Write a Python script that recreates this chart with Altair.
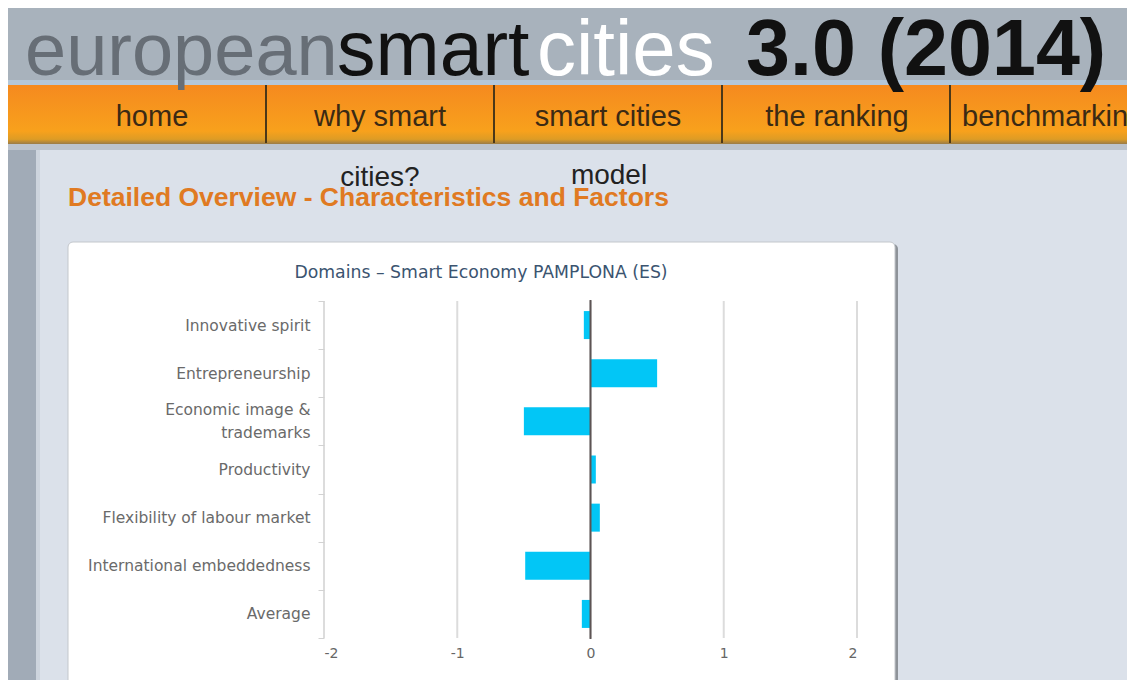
import altair as alt
import pandas as pd

# ---------------- data ----------------
categories = [
    "Innovative spirit",
    "Entrepreneurship",
    "Economic image & trademarks",
    "Productivity",
    "Flexibility of labour market",
    "International embeddedness",
    "Average",
]
values = [-0.05, 0.50, -0.50, 0.04, 0.07, -0.49, -0.065]
x_ticks = [-2, -1, 0, 1, 2]

nav_labels = ["home", "why smart", "smart cities", "the ranking", "benchmarking"]
nav_overflow = ["cities?", "model"]
title_parts = ["european", "smart", "cities", "3.0 (2014)"]
heading = "Detailed Overview - Characteristics and Factors"
chart_title = "Domains \u2013 Smart Economy PAMPLONA (ES)"

df = pd.DataFrame({"category": categories, "value": values})
ticks_df = pd.DataFrame({"tick": x_ticks})
one = pd.DataFrame({"k": [1]})

# page coordinates of the plot-area origin (page margin 8 + padding)
OX, OY = 324, 301
PW, PH = 533, 337


def rect(x1, y1, x2, y2, fill, **kw):
    return alt.Chart(one).mark_rect(fill=fill, **kw).encode(
        x=alt.value(x1 - OX), x2=alt.value(x2 - OX),
        y=alt.value(y1 - OY), y2=alt.value(y2 - OY))


def text(s, x, y, size, color, font="Liberation Sans", weight="normal", align="left"):
    return alt.Chart(one).mark_text(
        text=s, font=font, fontSize=size, fontWeight=weight, color=color,
        align=align, baseline="alphabetic").encode(
        x=alt.value(x - OX), y=alt.value(y - OY))


nav_grad = alt.LinearGradient(
    gradient="linear",
    stops=[alt.GradientStop(color="#f58a1f", offset=0),
           alt.GradientStop(color="#f8a11c", offset=0.78),
           alt.GradientStop(color="#dd9c25", offset=0.92),
           alt.GradientStop(color="#9a7b47", offset=1)],
    x1=0, x2=0, y1=0, y2=1)

layers = [
    # header
    rect(8, 8, 1127, 80, "#a8b2bc"),
    rect(8, 80, 1127, 85, "#b3c7da"),
    rect(8, 85, 1127, 144, nav_grad),
    rect(8, 144, 1127, 150, "#bcc3cc"),
    # left strip
    rect(8, 150, 36, 680, "#a1abb7"),
    rect(36, 150, 40, 680, "#cdd4dd"),
]
for sx in [266, 494, 722, 950]:
    layers.append(rect(sx - 1, 85, sx + 1, 143, "#4b3819"))

# nav texts
nav_x = [152, 380, 608, 837]
for lab, cx in zip(nav_labels[:4], nav_x):
    layers.append(text(lab, cx, 126, 29, "#3b2a14", align="center"))
layers.append(text(nav_labels[4], 962, 126, 29, "#3b2a14"))

# overflow lines of nav items
layers.append(text(nav_overflow[0], 380, 186, 28, "#222222", align="center"))
layers.append(text(nav_overflow[1], 609, 184, 28, "#222222", align="center"))

# site title
layers.append(text(title_parts[0], 25, 75, 74, "#676e76"))
layers.append(text(title_parts[1], 337, 75, 77, "#111111"))
layers.append(text(title_parts[2], 537, 75, 78, "#ffffff"))
layers.append(text(title_parts[3], 746, 75, 79, "#111111", weight="bold"))

# heading
layers.append(text(heading, 68, 206, 26.5, "#e07a22", weight="bold"))

# card
layers.append(rect(70, 244, 898, 690, "#8e9399", cornerRadius=5))
layers.append(rect(68, 242, 895, 687, "#ffffff", cornerRadius=5,
                   stroke="#c3c7cc", strokeWidth=1))

# chart title
layers.append(text(chart_title, 481, 278, 17.3, "#3b5470",
                   font="DejaVu Sans", align="center"))

xscale = alt.Scale(domain=[-2, 2], nice=False, zero=False)
xaxis = alt.Axis(
    values=x_ticks, grid=False, domain=False, ticks=False, title=None,
    labelFont="DejaVu Sans", labelFontSize=14, labelColor="#666666",
    labelPadding=8, labelExpr="'' + datum.value", zindex=1)
yscale = alt.Scale(paddingInner=0, paddingOuter=0)
yaxis = alt.Axis(
    title=None, domain=False, ticks=True, tickBand="extent", tickSize=6,
    tickColor="#d2d2d2", grid=False, labelFont="DejaVu Sans",
    labelFontSize=15.5, labelColor="#6a6a6a", labelPadding=8,
    labelLineHeight=23, labelLimit=400, zindex=1,
    labelOffset={"condition": {"test": "datum.value == 'Economic image & trademarks'",
                               "value": -11.5},
                 "value": 0},
    labelExpr="datum.label == 'Economic image & trademarks' ? "
              "['Economic image &', 'trademarks'] : datum.label")

grid = alt.Chart(ticks_df).mark_rule(color="#dcdcdc", strokeWidth=2).encode(
    x=alt.X("tick:Q", scale=xscale, axis=xaxis),
    y=alt.value(0), y2=alt.value(PH))

bars = alt.Chart(df).mark_bar(size=28, color="#02c6f6").encode(
    x=alt.X("value:Q", scale=xscale, axis=xaxis),
    y=alt.Y("category:N", sort=categories, scale=yscale, axis=yaxis))

zero = alt.Chart(one).mark_rule(color="#5d5454", strokeWidth=2).encode(
    x=alt.datum(0), y=alt.value(-1), y2=alt.value(PH + 1))

layers += [grid, bars, zero]

chart = alt.layer(*layers).properties(
    width=PW, height=PH,
    autosize=alt.AutoSizeParams(type="none"),
    padding={"left": OX - 8, "top": OY - 8,
             "right": 1119 - (OX - 8) - PW, "bottom": 672 - (OY - 8) - PH},
    background="#dbe1ea",
).configure_view(stroke=None)

chart.save("out.html", embed_options={"renderer": "svg", "actions": False})
